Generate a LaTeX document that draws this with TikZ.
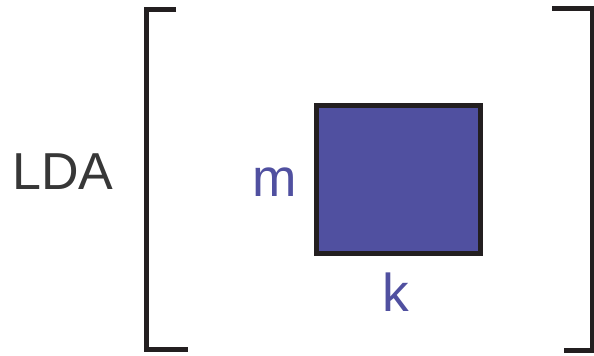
\documentclass[tikz,border=0pt]{standalone}
\usepackage{fontspec}
\setmainfont{Liberation Sans}
\definecolor{violet}{RGB}{80,80,160}
\definecolor{encre}{RGB}{35,31,32}
\definecolor{gristexte}{RGB}{55,55,55}
\begin{document}
\begin{tikzpicture}[x=0.75pt,y=-0.75pt,
  crochet/.style={line width=3.75pt,draw=encre,miter limit=10},
  matrice/.style={draw=encre,fill=violet,line width=3.75pt,
    minimum width=123pt,minimum height=111pt,inner sep=0pt},
  dim/.style={text=violet,font=\fontsize{40}{40}\selectfont,anchor=base},
  titre/.style={text=gristexte,font=\fontsize{39}{39}\selectfont,anchor=base}]

\useasboundingbox
(0,0)
rectangle
(594,356);

% Titre
\node[titre] (lda)
at (63,190)
{LDA};

% Crochet gauche
\draw[crochet]
(176,9.5)
--
(146,9.5)
--
(146,350)
--
(188,350);

% Crochet droit
\draw[crochet]
(552,8.7)
--
(592,8.7)
--
(592,351)
--
(564,351);

% Matrice
\node[matrice] (mat)
at (398,180)
{};

% Dimensions
\node[dim] (m)
at (274.5,197)
{m};

\node[dim] (k)
at (396,311.7)
{k};

\end{tikzpicture}
\end{document}
